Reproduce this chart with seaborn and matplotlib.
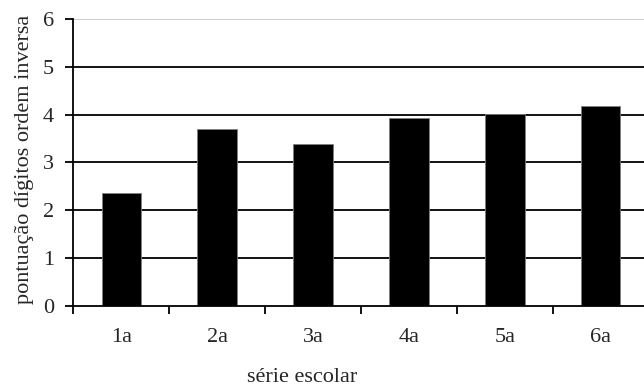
#!/usr/bin/env python3

import numpy as np
import pandas
import seaborn as sns
import matplotlib
matplotlib.use("Agg")
import matplotlib.pyplot as plt

# Values
series = ["1a", "2a", "3a", "4a", "5a", "6a"]
scores = [2.35, 3.69, 3.38, 3.94, 4.01, 4.18]
yticks = [0, 1, 2, 3, 4, 5, 6]


def main():
    df = pandas.DataFrame({"serie": series, "score": scores})

    sns.set_style("white")
    plt.rcParams["font.family"] = ["Liberation Serif", "DejaVu Serif"]
    fs = 16

    fig = plt.figure(figsize=(6.44, 3.90), dpi=100)
    # axes runs past the right edge, as in the reference
    ax = fig.add_axes([0.1138, 0.216, 0.8935, 0.735])

    # horizontal grid lines, drawn behind the bars
    for y in yticks[1:]:
        color = "#c8c8c8" if y == yticks[-1] else "black"
        ax.axhline(y, color=color, linewidth=1.3, zorder=0)

    sns.barplot(
        data=df,
        x="serie",
        y="score",
        color="black",
        saturation=1,
        width=0.41,
        edgecolor="#808080",
        linewidth=0.6,
        ax=ax,
        zorder=2,
    )

    ax.set_xlim(-0.5, len(series) - 0.5)
    ax.set_ylim(0, 6)
    ax.set_yticks(yticks)
    ax.set_yticklabels([str(v) for v in yticks], fontsize=fs)

    # category ticks at the boundaries, labels centred under the bars
    ax.set_xticks(np.arange(len(series)))
    ax.set_xticklabels(series, fontsize=fs)
    ax.set_xticks(np.arange(len(series) + 1) - 0.5, minor=True)
    ax.tick_params(axis="x", which="major", length=0, pad=16)
    ax.tick_params(axis="x", which="minor", direction="out", length=6,
                   width=1.3, color="black", bottom=True)
    ax.tick_params(axis="y", direction="out", length=6, width=1.3,
                   color="black", left=True, pad=8)

    for side in ["top", "right"]:
        ax.spines[side].set_visible(False)
    for side in ["left", "bottom"]:
        ax.spines[side].set_color("black")
        ax.spines[side].set_linewidth(1.3)
        ax.spines[side].set_zorder(3)

    ax.set_xlabel("série escolar", fontsize=fs)
    ax.xaxis.set_label_coords(0.397, -0.252)
    ax.xaxis.label.set_verticalalignment("center")
    ax.set_ylabel("pontuação dígitos ordem inversa", fontsize=fs)
    ax.yaxis.set_label_coords(-0.085, 0.512)
    ax.yaxis.label.set_verticalalignment("center")

    fig.savefig("out.png", dpi=100)


if __name__ == "__main__":
    main()
